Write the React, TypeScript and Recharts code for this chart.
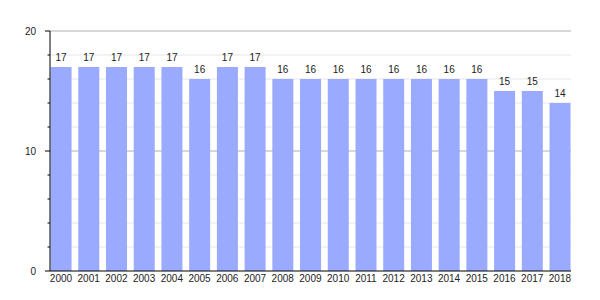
import { BarChart, Bar, XAxis, YAxis, CartesianGrid, LabelList } from 'recharts';

const years = ['2000', '2001', '2002', '2003', '2004', '2005', '2006', '2007', '2008', '2009', '2010', '2011', '2012', '2013', '2014', '2015', '2016', '2017', '2018'];
const values = [17, 17, 17, 17, 17, 16, 17, 17, 16, 16, 16, 16, 16, 16, 16, 16, 15, 15, 14];
const yTicks = [0, 2, 4, 6, 8, 10, 12, 14, 16, 18, 20];
const majorTicks = [0, 10, 20];
const minorGrid = [2, 4, 6, 8, 12, 14, 16, 18];
const majorGrid = [10, 20];

const data = years.map((year, i) => ({ year, value: values[i] }));

// y axis: long ticks + labels on 0/10/20, short ticks every 2
const YTick = (props: any) => {
  const { x, y, payload } = props;
  const major = majorTicks.includes(payload.value);
  return (
    <g>
      <line x1={x + 9 + (major ? 0 : 2.5)} x2={x + 14} y1={y} y2={y} stroke="#000" />
      {major && (
        <text x={x} y={y} dy="0.35em" textAnchor="end" fontSize={10} fill="#222">
          {payload.value}
        </text>
      )}
    </g>
  );
};

export default function App() {
  return (
    <div style={{ position: 'absolute', left: 0, top: 0, width: 600, height: 300, background: '#fff', fontFamily: '"Liberation Sans", Arial, sans-serif' }}>
      <BarChart width={600} height={300} data={data} margin={{ top: 31, right: 29, bottom: 0, left: 0 }} barCategoryGap="12.5%">
        <CartesianGrid vertical={false} horizontalValues={minorGrid} stroke="#e6e6e6" />
        <CartesianGrid vertical={false} horizontalValues={majorGrid} stroke="#b0b0b0" />
        <XAxis
          dataKey="year"
          height={29}
          interval={0}
          tickLine={false}
          tickSize={2}
          tickMargin={2}
          axisLine={{ stroke: '#000' }}
          tick={{ fontSize: 10, fill: '#222' }}
          padding={{ left: -2.9, right: -2.8 }}
        />
        <YAxis
          width={50}
          domain={[0, 20]}
          ticks={yTicks}
          interval={0}
          tickLine={false}
          tickSize={5}
          tickMargin={9}
          axisLine={{ stroke: '#000' }}
          tick={<YTick />}
        />
        <Bar dataKey="value" fill="#99aaff" isAnimationActive={false}>
          <LabelList dataKey="value" position="top" offset={6} fontSize={10} fill="#222" />
        </Bar>
      </BarChart>
    </div>
  );
}
